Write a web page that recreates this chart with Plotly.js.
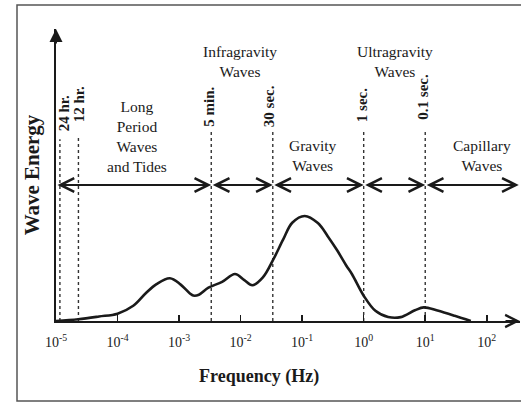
<!DOCTYPE html>
<html>
<head>
<meta charset="utf-8">
<script src="https://cdn.plot.ly/plotly-3.0.1.min.js"></script>
<style>
html,body{margin:0;padding:0;background:#fff;}
#chart{width:521px;height:404px;}
</style>
</head>
<body>
<div id="chart"></div>
<script>
// ---- data ----
const freqHz = [1e-5, 2.3e-5, 5e-5, 1e-4, 1.8e-4, 2.9e-4, 4.3e-4, 7.1e-4, 1.05e-3, 1.5e-3, 1.7e-3, 2.1e-3,
  3.0e-3, 5.0e-3, 8.1e-3, 1.15e-2, 1.55e-2, 2.3e-2, 3.4e-2, 4.9e-2, 6.9e-2, 0.11, 0.18, 0.26, 0.37, 0.52,
  0.65, 1.0, 1.55, 2.5, 4.0, 6.8, 9.5, 15.8, 30, 55];
const energy = [0, 0.017, 0.043, 0.07, 0.145, 0.267, 0.351, 0.407, 0.349, 0.262, 0.242, 0.25,
  0.317, 0.372, 0.447, 0.389, 0.34, 0.415, 0.586, 0.774, 0.935, 1.0, 0.932, 0.808, 0.673, 0.529,
  0.443, 0.241, 0.097, 0.038, 0.037, 0.102, 0.13, 0.099, 0.05, 0];

const periodLabels = ['24 hr.', '12 hr.', '5 min.', '30 sec.', '1 sec.', '0.1 sec.'];
const periodSeconds = [86400, 43200, 300, 30, 1, 0.1];

const regionNames = ['Long<br>Period<br>Waves<br>and Tides', 'Infragravity<br>Waves', 'Gravity<br>Waves',
  'Ultragravity<br>Waves', 'Capillary<br>Waves'];

const tickVals = [1e-5, 1e-4, 1e-3, 1e-2, 1e-1, 1e0, 1e1, 1e2];
const tickText = ['10<sup>-5</sup>', '10<sup>-4</sup>', '10<sup>-3</sup>', '10<sup>-2</sup>',
  '10<sup>-1</sup>', '10<sup>0</sup>', '10<sup>1</sup>', '10<sup>2</sup>'];

// ---- layout / style ----
const INK = '#1a1a1a';
const SERIF = 'Liberation Serif, Times New Roman, serif';
const xRange = [-5, 2.54];
const yRange = [0, 2.78];

const traces = [];
// vertical dotted period lines
const lineTop = [1.73, 1.75, 1.8, 1.8, 1.8, 1.81];
periodSeconds.forEach((s, i) => {
  traces.push({
    x: [1 / s, 1 / s], y: [0, lineTop[i]], mode: 'lines', type: 'scatter',
    line: {color: '#333', width: 1.4, dash: 'dot'}, hoverinfo: 'skip', showlegend: false
  });
});
// energy curve
traces.push({
  x: freqHz, y: energy, mode: 'lines', type: 'scatter',
  line: {color: INK, width: 2.6, shape: 'spline', smoothing: 1}, showlegend: false
});

const annotations = [];
// period labels (rotated)
const labelY = [1.976, 2.067, 2.043, 2.043, 2.052, 2.138];
const labelShift = [5, 0, -2, -3, -1, -2];
periodSeconds.forEach((s, i) => {
  annotations.push({
    x: Math.log10(1 / s), y: labelY[i], xref: 'x', yref: 'y', text: '<b>' + periodLabels[i] + '</b>',
    showarrow: false, textangle: -90, xshift: labelShift[i],
    font: {family: SERIF, size: 15, color: INK}
  });
});
// region labels
const regionPos = [[-3.685, 1.757], [-2.013, 2.467], [-0.828, 1.571], [0.503, 2.467], [1.916, 1.571]];
regionNames.forEach((t, i) => {
  annotations.push({
    x: regionPos[i][0], y: regionPos[i][1], xref: 'x', yref: 'y', text: t, showarrow: false,
    align: 'center', font: {family: SERIF, size: 15.5, color: INK}
  });
});
// region arrows between boundaries (X marks where they meet)
const bounds = [xRange[0], Math.log10(1 / periodSeconds[2]), Math.log10(1 / periodSeconds[3]),
  Math.log10(1 / periodSeconds[4]), Math.log10(1 / periodSeconds[5]), xRange[1] - 0.02];
const arrowY = 1.295;
for (let i = 0; i < bounds.length - 1; i++) {
  annotations.push({
    x: bounds[i + 1], y: arrowY, ax: bounds[i], ay: arrowY, xref: 'x', yref: 'y', axref: 'x', ayref: 'y',
    text: '', showarrow: true, arrowside: 'end+start', arrowhead: 5, startarrowhead: 5,
    arrowsize: 1.5, startarrowsize: 1.5, arrowwidth: 1.8, arrowcolor: INK, standoff: 0, startstandoff: 0
  });
}
// y axis arrow head
annotations.push({
  x: 0, y: 1, xref: 'paper', yref: 'paper', ax: 0, ay: 16, text: '', showarrow: true,
  arrowhead: 2, arrowsize: 1.3, arrowwidth: 2, arrowcolor: INK
});
// x axis arrow head
annotations.push({
  x: 1, y: 0, xref: 'paper', yref: 'paper', ax: -16, ay: 0, text: '', showarrow: true,
  arrowhead: 5, arrowsize: 1.2, arrowwidth: 2, arrowcolor: INK
});
// x axis title
annotations.push({
  x: (259 - 56) / 464, y: -0.19, xref: 'paper', yref: 'paper', yanchor: 'middle',
  text: '<b>Frequency (Hz)</b>', showarrow: false, font: {family: SERIF, size: 18, color: INK}
});

const layout = {
  width: 521, height: 404,
  margin: {l: 56, r: 1, t: 29, b: 83},
  paper_bgcolor: '#fff', plot_bgcolor: '#fff',
  showlegend: false,
  xaxis: {
    type: 'log', range: xRange, showgrid: false, zeroline: false,
    showline: true, linecolor: INK, linewidth: 2,
    tickvals: tickVals, ticktext: tickText, ticks: 'inside', ticklen: 6, tickwidth: 1.5, tickcolor: INK,
    tickfont: {family: SERIF, size: 14, color: INK}, ticklabelstandoff: 7
  },
  yaxis: {
    range: yRange, showgrid: false, zeroline: false, showticklabels: false, ticks: '',
    showline: true, linecolor: INK, linewidth: 2,
    title: {text: '<b>Wave Energy</b>', font: {family: SERIF, size: 21, color: INK}, standoff: 9}
  },
  annotations: annotations,
  shapes: [{
    type: 'rect', xref: 'paper', yref: 'paper',
    x0: (17 - 56) / 464, x1: 1.02, y0: (321 - 401) / 292, y1: (321 - 5) / 292,
    line: {color: '#555', width: 1.5}
  }]
};

Plotly.newPlot('chart', traces, layout, {displayModeBar: false, staticPlot: true});
</script>
</body>
</html>
